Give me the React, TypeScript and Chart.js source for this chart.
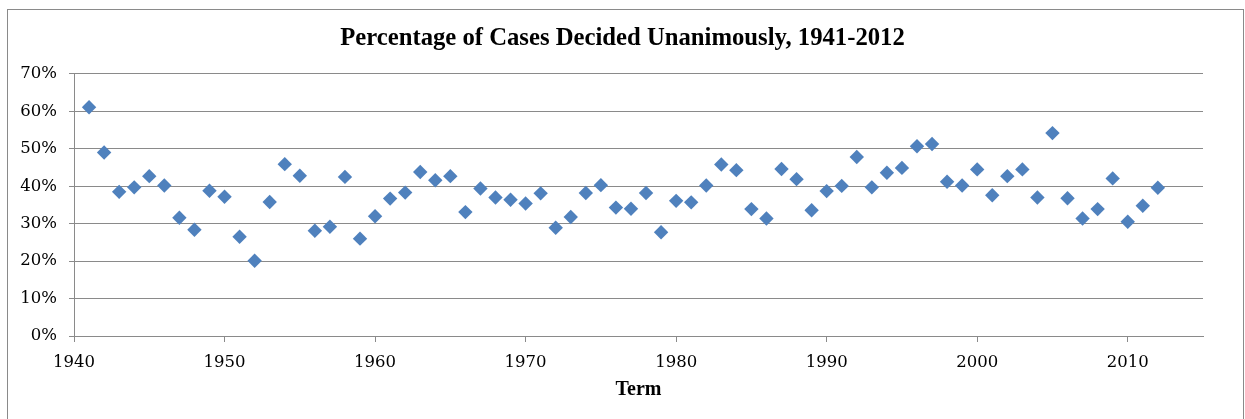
import React, { useEffect, useRef } from "react";
import { Chart, registerables } from "chart.js";

Chart.register(...registerables);

const years: number[] = [
  1941, 1942, 1943, 1944, 1945, 1946, 1947, 1948, 1949, 1950,
  1951, 1952, 1953, 1954, 1955, 1956, 1957, 1958, 1959, 1960,
  1961, 1962, 1963, 1964, 1965, 1966, 1967, 1968, 1969, 1970,
  1971, 1972, 1973, 1974, 1975, 1976, 1977, 1978, 1979, 1980,
  1981, 1982, 1983, 1984, 1985, 1986, 1987, 1988, 1989, 1990,
  1991, 1992, 1993, 1994, 1995, 1996, 1997, 1998, 1999, 2000,
  2001, 2002, 2003, 2004, 2005, 2006, 2007, 2008, 2009, 2010,
  2011, 2012,
];

// percentage of cases decided unanimously
const unanimousPct: number[] = [
  61.1, 49.0, 38.5, 39.7, 42.7, 40.2, 31.6, 28.4, 38.8, 37.2,
  26.5, 20.1, 35.8, 45.9, 42.8, 28.1, 29.2, 42.5, 26.0, 32.0,
  36.7, 38.3, 43.8, 41.6, 42.7, 33.1, 39.4, 37.0, 36.4, 35.4,
  38.1, 28.9, 31.8, 38.2, 40.3, 34.3, 34.0, 38.2, 27.7, 36.1,
  35.7, 40.2, 45.8, 44.3, 33.9, 31.4, 44.6, 41.9, 33.6, 38.7,
  40.1, 47.8, 39.7, 43.6, 44.9, 50.7, 51.3, 41.2, 40.2, 44.5,
  37.6, 42.7, 44.5, 37.0, 54.2, 36.8, 31.4, 33.9, 42.1, 30.5,
  34.8, 39.6,
];

const titleText = "Percentage of Cases Decided Unanimously, 1941-2012";
const xAxisTitle = "Term";
const xMin = 1940;
const xMax = 2015;
const xStep = 10;
const yMin = 0;
const yMax = 70;
const yStep = 10;

const frameBorder = {
  id: "frameBorder",
  beforeDraw(chart: any) {
    const ctx = chart.ctx;
    ctx.save();
    ctx.fillStyle = "#ffffff";
    ctx.fillRect(0, 0, chart.width, chart.height);
    ctx.strokeStyle = "#8a8a8a";
    ctx.lineWidth = 1;
    ctx.strokeRect(7.5, 9.5, 1236, 430);
    ctx.restore();
  },
};

export default function App() {
  const canvasRef = useRef<HTMLCanvasElement | null>(null);

  useEffect(() => {
    if (!canvasRef.current) return;
    const gridColor = "#8a8a8a";
    const chart = new Chart(canvasRef.current, {
      type: "scatter",
      data: {
        datasets: [
          {
            label: "Unanimous",
            data: years.map((yr, i) => ({ x: yr, y: unanimousPct[i] })),
            backgroundColor: "#4F81BD",
            borderColor: "#4F81BD",
            borderWidth: 0,
            pointStyle: "rectRot",
            pointRadius: 7.2,
            pointHoverRadius: 7.2,
            xAxisID: "x",
            yAxisID: "y",
          },
        ],
      },
      plugins: [frameBorder],
      options: {
        responsive: false,
        animation: false,
        devicePixelRatio: 1,
        layout: { padding: { left: 0, right: 0, top: 0, bottom: 0 } },
        plugins: {
          legend: { display: false },
          tooltip: { enabled: false },
          title: {
            display: true,
            text: titleText,
            color: "#000000",
            font: { family: "'Liberation Serif', serif", size: 24.7, weight: "bold", lineHeight: 1.2 },
            padding: { top: 23.5, bottom: 20.8 },
          },
        },
        scales: {
          x: {
            type: "linear",
            min: xMin,
            max: xMax,
            afterFit: (scale: any) => {
              scale.height = 83;
            },
            ticks: {
              stepSize: xStep,
              includeBounds: false,
              color: "#000000",
              padding: 10.5,
              font: { family: "'DejaVu Serif', serif", size: 16.5 },
              callback: (v: any) => String(v),
            },
            grid: {
              drawOnChartArea: false,
              drawTicks: true,
              tickLength: 6,
              color: gridColor,
            },
            border: { display: true, color: gridColor, width: 1 },
            title: {
              display: true,
              text: xAxisTitle,
              color: "#000000",
              font: { family: "'Liberation Serif', serif", size: 20, weight: "bold", lineHeight: 1.2 },
              padding: { top: 0, bottom: 17 },
            },
          },
          y: {
            type: "linear",
            position: "left",
            min: yMin,
            max: yMax,
            afterFit: (scale: any) => {
              scale.width = 74;
            },
            ticks: {
              stepSize: yStep,
              color: "#000000",
              padding: 12,
              font: { family: "'DejaVu Serif', serif", size: 16.5 },
              callback: (v: any) => v + "%",
            },
            grid: {
              drawOnChartArea: true,
              drawTicks: true,
              tickLength: 5,
              color: gridColor,
            },
            border: { display: true, color: gridColor, width: 1 },
          },
          yRightSpace: {
            type: "linear",
            position: "right",
            min: yMin,
            max: yMax,
            afterFit: (scale: any) => {
              scale.width = 42;
            },
            ticks: { display: false },
            grid: { display: false, drawTicks: false },
            border: { display: false },
          },
        },
      },
    });
    return () => chart.destroy();
  }, []);

  return (
    <div style={{ position: "fixed", left: 0, top: 0, width: 1245, height: 419, background: "#fff" }}>
      <canvas ref={canvasRef} width={1245} height={419} style={{ width: 1245, height: 419, display: "block" }} />
    </div>
  );
}
